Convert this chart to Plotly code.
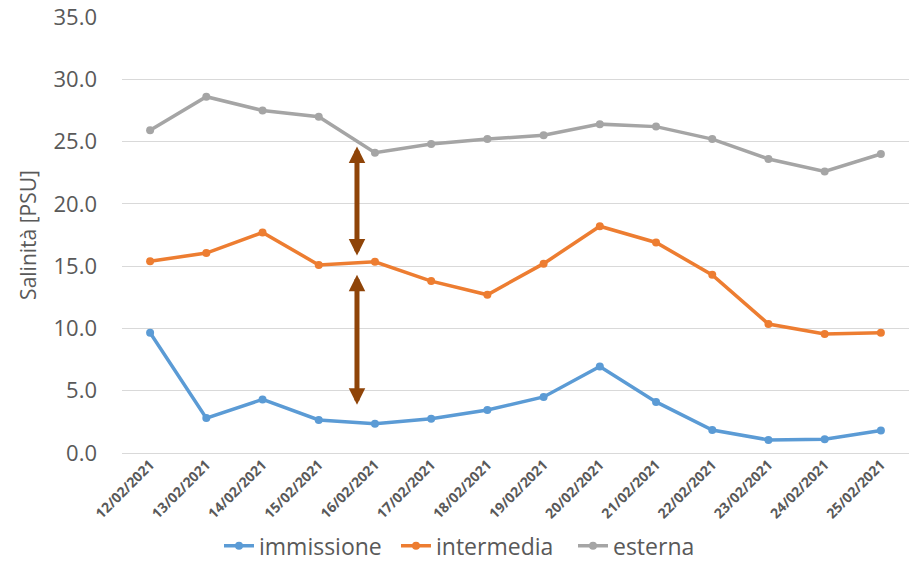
import plotly.graph_objects as go

# Sampling dates
dates = ["12/02/2021", "13/02/2021", "14/02/2021", "15/02/2021", "16/02/2021",
         "17/02/2021", "18/02/2021", "19/02/2021", "20/02/2021", "21/02/2021",
         "22/02/2021", "23/02/2021", "24/02/2021", "25/02/2021"]

# Salinity [PSU] at the three stations
immissione = [9.65, 2.8, 4.3, 2.65, 2.35, 2.75, 3.45, 4.5, 6.95, 4.1, 1.85, 1.05, 1.1, 1.8]
intermedia = [15.4, 16.05, 17.7, 15.1, 15.35, 13.8, 12.7, 15.2, 18.2, 16.9, 14.3, 10.35, 9.55, 9.65]
esterna = [25.9, 28.6, 27.5, 27.0, 24.1, 24.8, 25.2, 25.5, 26.4, 26.2, 25.2, 23.6, 22.6, 24.0]

y_ticks = [0, 5, 10, 15, 20, 25, 30, 35]

# Double-headed arrows marking the salinity gaps: (x position, lower end, upper end)
gap_arrows = [(3.68, 15.73, 24.6), (3.68, 3.75, 14.3)]

series = [
    ("immissione", immissione, "#5b9bd5"),
    ("intermedia", intermedia, "#ed7d31"),
    ("esterna", esterna, "#a5a5a5"),
]

x_idx = list(range(len(dates)))

fig = go.Figure()
for name, vals, color in series:
    fig.add_trace(go.Scatter(
        x=x_idx, y=vals, name=name, mode="lines+markers",
        line=dict(color=color, width=3.5),
        marker=dict(color=color, size=8),
    ))

arrow_color = "#8f4408"
for xa, lo, hi in gap_arrows:
    fig.add_annotation(
        x=xa, y=hi, ax=xa, ay=lo, xref="x", yref="y", axref="x", ayref="y",
        showarrow=True, arrowhead=2, startarrowhead=2, arrowside="end+start",
        arrowwidth=5, arrowsize=0.66, startarrowsize=0.66,
        arrowcolor=arrow_color, standoff=0, startstandoff=0, text="",
    )

grey = "#595959"
fig.update_layout(
    width=909, height=561,
    margin=dict(l=122, r=0, t=17, b=108),
    paper_bgcolor="white", plot_bgcolor="white",
    font=dict(family="Open Sans", color=grey),
    showlegend=True,
    legend=dict(
        orientation="h", xref="container", yref="container",
        x=0.533, y=0.027, xanchor="center", yanchor="middle",
        font=dict(size=23, color=grey), itemwidth=30,
        entrywidth=132, entrywidthmode="pixels",
        traceorder="normal",
    ),
    xaxis=dict(
        range=[-0.5, len(dates) - 0.5],
        tickmode="array", tickvals=x_idx, ticktext=dates,
        tickangle=-45, tickfont=dict(size=14, color=grey, weight="bold"),
        showgrid=False, zeroline=False, showline=False, ticks="",
    ),
    yaxis=dict(
        range=[0, 35], tickmode="array", tickvals=y_ticks,
        ticktext=[f"{v:.1f}" for v in y_ticks],
        tickfont=dict(size=22, color=grey),
        showgrid=True, gridcolor="#d9d9d9", gridwidth=1,
        zeroline=True, zerolinecolor="#d9d9d9", zerolinewidth=1,
        showline=False, ticks="", ticklabelstandoff=24,
        title=dict(text="Salinità [PSU]", font=dict(size=21, color=grey), standoff=11),
    ),
)

fig.write_html("out.html")
